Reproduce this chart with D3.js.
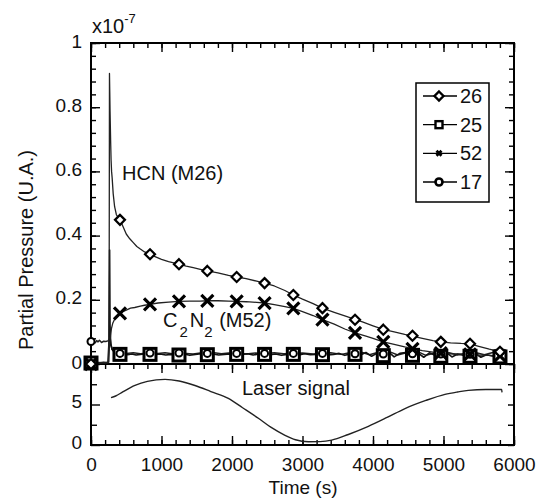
<!DOCTYPE html>
<html>
<head>
<meta charset="utf-8">
<script src="https://cdn.jsdelivr.net/npm/d3@7/dist/d3.min.js"></script>
<style>
  html, body { margin: 0; padding: 0; background: #fff; }
  svg { display: block; font-family: "Liberation Sans", Arial, sans-serif; }
</style>
</head>
<body>
<svg id="chart" width="543" height="498"></svg>
<script>
// ---- data -------------------------------------------------------------
// Time axis ticks (s)
const timeMajorTicks = [0, 1000, 2000, 3000, 4000, 5000, 6000];
const timeMinorTicks = d3.range(0, 6001, 200);
// Partial pressure ticks (x10^-7)
const pressMajorTicks = [0, 0.2, 0.4, 0.6, 0.8, 1];
const pressMinorTicks = d3.range(0, 1.0001, 0.04);
// Laser signal ticks
const laserMajorTicks = [0, 5];
const laserMinorTicks = [2.5, 7.5];

// Marker sampling times (s)
const markerTimes = [0, 411, 837, 1248, 1650, 2066, 2462, 2870, 3283, 3745, 4146, 4560, 4962, 5376, 5801];

// m/z 26 (HCN)
const t26 = [0, 100, 200, 250, 258, 262, 266, 270, 278, 285, 292, 300, 315, 335, 360, 390, 411, 460, 500, 550, 600, 650, 700, 760, 837, 900, 1000, 1100, 1248, 1350, 1450, 1550, 1650, 1800, 1950, 2066, 2200, 2350, 2462, 2600, 2750, 2870, 3000, 3150, 3283, 3450, 3600, 3745, 3850, 4000, 4146, 4300, 4450, 4560, 4700, 4850, 4962, 5100, 5250, 5376, 5500, 5650, 5801, 5850];
const v26 = [0.004, 0.005, 0.004, 0.006, 0.30, 0.905, 0.85, 0.79, 0.70, 0.635, 0.60, 0.58, 0.53, 0.49, 0.465, 0.455, 0.449, 0.425, 0.405, 0.39, 0.378, 0.366, 0.358, 0.349, 0.342, 0.335, 0.326, 0.319, 0.311, 0.305, 0.300, 0.295, 0.290, 0.284, 0.276, 0.271, 0.266, 0.258, 0.252, 0.243, 0.229, 0.215, 0.202, 0.188, 0.174, 0.161, 0.150, 0.139, 0.131, 0.119, 0.108, 0.100, 0.092, 0.087, 0.080, 0.073, 0.069, 0.066, 0.064, 0.063, 0.055, 0.046, 0.038, 0.036];
const mark26 = [0.0, 0.449, 0.342, 0.311, 0.290, 0.271, 0.252, 0.215, 0.174, 0.138, 0.107, 0.088, 0.069, 0.063, 0.038];

// m/z 52 (C2N2)
const t52 = [0, 100, 200, 250, 262, 270, 278, 290, 310, 340, 380, 411, 450, 500, 560, 620, 700, 760, 837, 950, 1100, 1248, 1400, 1550, 1650, 1800, 1950, 2066, 2200, 2350, 2462, 2600, 2750, 2870, 3000, 3150, 3283, 3450, 3600, 3745, 3900, 4000, 4146, 4300, 4450, 4560, 4700, 4850, 4962, 5100, 5250, 5376, 5500, 5650, 5801, 5850];
const v52 = [0.003, 0.004, 0.003, 0.005, 0.060, 0.072, 0.090, 0.110, 0.128, 0.142, 0.151, 0.158, 0.163, 0.168, 0.174, 0.176, 0.180, 0.183, 0.186, 0.190, 0.193, 0.195, 0.196, 0.196, 0.197, 0.197, 0.196, 0.195, 0.194, 0.192, 0.190, 0.185, 0.179, 0.173, 0.163, 0.151, 0.138, 0.124, 0.109, 0.097, 0.087, 0.080, 0.069, 0.061, 0.053, 0.048, 0.042, 0.037, 0.034, 0.032, 0.031, 0.030, 0.028, 0.027, 0.025, 0.025];
const mark52 = [0.0, 0.158, 0.186, 0.195, 0.197, 0.195, 0.190, 0.173, 0.138, 0.097, 0.069, 0.047, 0.034, 0.030, 0.025];

// m/z 25
const t25 = [0, 60, 120, 180, 240, 258, 264, 270, 280, 300, 330, 370, 411, 460, 520, 580, 640, 700, 770, 837, 900, 980, 1060, 1140, 1248, 1320, 1400, 1480, 1560, 1650, 1730, 1810, 1890, 1970, 2066, 2140, 2220, 2300, 2380, 2462, 2540, 2620, 2700, 2780, 2870, 2950, 3030, 3110, 3190, 3283, 3360, 3440, 3520, 3600, 3680, 3745, 3820, 3900, 3980, 4060, 4146, 4220, 4300, 4380, 4460, 4560, 4640, 4720, 4800, 4880, 4962, 5040, 5120, 5200, 5280, 5376, 5450, 5530, 5610, 5690, 5801, 5870];
const v25 = [0.002, 0.004, 0.003, 0.005, 0.004, 0.080, 0.355, 0.120, 0.060, 0.045, 0.038, 0.035, 0.032, 0.031, 0.029, 0.031, 0.028, 0.030, 0.032, 0.030, 0.029, 0.031, 0.028, 0.030, 0.029, 0.031, 0.027, 0.030, 0.032, 0.029, 0.031, 0.028, 0.030, 0.031, 0.029, 0.030, 0.032, 0.028, 0.031, 0.030, 0.029, 0.031, 0.027, 0.030, 0.031, 0.028, 0.032, 0.029, 0.030, 0.031, 0.028, 0.030, 0.033, 0.027, 0.031, 0.030, 0.028, 0.036, 0.024, 0.034, 0.029, 0.038, 0.022, 0.033, 0.036, 0.025, 0.034, 0.021, 0.035, 0.027, 0.024, 0.036, 0.022, 0.031, 0.027, 0.024, 0.033, 0.021, 0.029, 0.025, 0.023, 0.024];
const mark25 = [0.003, 0.030, 0.030, 0.028, 0.029, 0.030, 0.030, 0.030, 0.029, 0.030, 0.026, 0.027, 0.024, 0.024, 0.022];

// m/z 17
const t17 = [0, 30, 60, 80, 100, 120, 150, 180, 210, 240, 262, 270, 285, 300, 320, 350, 411, 500, 600, 700, 837, 950, 1050, 1150, 1248, 1350, 1450, 1550, 1650, 1750, 1850, 1950, 2066, 2200, 2330, 2462, 2600, 2730, 2870, 3000, 3150, 3283, 3400, 3550, 3650, 3745, 3850, 3950, 4050, 4146, 4250, 4350, 4460, 4560, 4650, 4750, 4850, 4962, 5080, 5200, 5300, 5376, 5480, 5580, 5700, 5801, 5870];
const v17 = [0.068, 0.070, 0.066, 0.073, 0.069, 0.074, 0.067, 0.071, 0.070, 0.072, 0.078, 0.082, 0.060, 0.045, 0.040, 0.036, 0.034, 0.033, 0.035, 0.032, 0.034, 0.033, 0.035, 0.032, 0.034, 0.033, 0.031, 0.034, 0.033, 0.035, 0.032, 0.034, 0.033, 0.031, 0.034, 0.033, 0.035, 0.032, 0.033, 0.034, 0.031, 0.033, 0.035, 0.030, 0.034, 0.032, 0.036, 0.029, 0.035, 0.031, 0.037, 0.028, 0.034, 0.032, 0.037, 0.027, 0.033, 0.031, 0.035, 0.028, 0.033, 0.030, 0.034, 0.029, 0.036, 0.038, 0.036];
const mark17 = [0.070, 0.033, 0.034, 0.034, 0.033, 0.033, 0.033, 0.033, 0.033, 0.032, 0.031, 0.032, 0.031, 0.030, 0.038];

// Laser signal
const tLaser = [284, 350, 450, 624, 800, 1050, 1250, 1475, 1700, 1948, 2150, 2374, 2550, 2752, 2900, 3083, 3250, 3414, 3650, 3934, 4200, 4454, 4750, 5021, 5200, 5352, 5600, 5825, 5830];
const vLaser = [5.85, 6.05, 6.55, 7.35, 7.85, 8.10, 7.90, 7.35, 6.60, 5.75, 4.60, 3.30, 2.20, 1.20, 0.65, 0.40, 0.42, 0.60, 1.30, 2.30, 3.40, 4.50, 5.50, 6.25, 6.55, 6.75, 6.85, 6.85, 6.50];

const legendLabels = ["26", "25", "52", "17"];

// ---- layout -------------------------------------------------------------
const X0 = 91, X1 = 514, YTOP = 43, YMID = 364, YBOT = 445;
const FONT = 20, TICKFONT = 19;

const svg = d3.select("#chart");
const x = d3.scaleLinear().domain([0, 6000]).range([X0, X1]);
const yP = d3.scaleLinear().domain([0, 1]).range([YMID, YTOP]);
const yL = d3.scaleLinear().domain([0, 10]).range([YBOT, YMID]);

const zip = (ts, vs) => ts.map((t, i) => [t, vs[i]]);

function styleAxis(g, labels) {
  g.select(".domain").remove();
  g.selectAll("line").attr("stroke", "#000").attr("stroke-width", 1.4);
  g.selectAll("text").attr("font-size", TICKFONT).attr("fill", "#111")
    .attr("font-family", '"Liberation Sans", Arial, sans-serif');
  if (!labels) g.selectAll("text").remove();
}

// ---- axes ---------------------------------------------------------------
// top panel, left
svg.append("g").attr("transform", `translate(${X0},0)`)
  .call(d3.axisLeft(yP).tickValues(pressMinorTicks).tickSize(-5).tickFormat(""))
  .call(g => styleAxis(g, false));
svg.append("g").attr("transform", `translate(${X0},-2)`)
  .call(d3.axisLeft(yP).tickValues(pressMajorTicks).tickSize(0).tickPadding(9)
    .tickFormat(d => d === 0 ? "0" : d === 1 ? "1" : d.toFixed(1)))
  .call(g => styleAxis(g, true));
svg.append("g").attr("transform", `translate(${X0},0)`)
  .call(d3.axisLeft(yP).tickValues(pressMajorTicks).tickSize(-9).tickFormat(""))
  .call(g => styleAxis(g, false));
// top panel, right
svg.append("g").attr("transform", `translate(${X1},0)`)
  .call(d3.axisRight(yP).tickValues(pressMinorTicks).tickSize(-5).tickFormat(""))
  .call(g => styleAxis(g, false));
svg.append("g").attr("transform", `translate(${X1},0)`)
  .call(d3.axisRight(yP).tickValues(pressMajorTicks).tickSize(-9).tickFormat(""))
  .call(g => styleAxis(g, false));
// laser panel, left
svg.append("g").attr("transform", `translate(${X0},0)`)
  .call(d3.axisLeft(yL).tickValues(laserMinorTicks).tickSize(-6).tickFormat(""))
  .call(g => styleAxis(g, false));
svg.append("g").attr("transform", `translate(${X0},-3)`)
  .call(d3.axisLeft(yL).tickValues(laserMajorTicks).tickSize(0).tickPadding(9).tickFormat(d3.format("d")))
  .call(g => styleAxis(g, true));
svg.append("g").attr("transform", `translate(${X0},0)`)
  .call(d3.axisLeft(yL).tickValues(laserMajorTicks).tickSize(-9).tickFormat(""))
  .call(g => styleAxis(g, false));
// laser panel, right
svg.append("g").attr("transform", `translate(${X1},0)`)
  .call(d3.axisRight(yL).tickValues(laserMinorTicks.concat(laserMajorTicks)).tickSize(-6).tickFormat(""))
  .call(g => styleAxis(g, false));

// time axes: top edge (ticks down), middle line (ticks down), bottom (ticks up)
[[d3.axisTop, YTOP], [d3.axisTop, YMID], [d3.axisBottom, YBOT]].forEach(([ax, yy]) => {
  svg.append("g").attr("transform", `translate(0,${yy})`)
    .call(ax(x).tickValues(timeMinorTicks).tickSize(-5).tickFormat(""))
    .call(g => styleAxis(g, false));
  svg.append("g").attr("transform", `translate(0,${yy})`)
    .call(ax(x).tickValues(timeMajorTicks).tickSize(-9).tickFormat(""))
    .call(g => styleAxis(g, false));
});
svg.append("g").attr("transform", `translate(0,${YBOT})`)
  .call(d3.axisBottom(x).tickValues(timeMajorTicks).tickSize(0).tickPadding(13).tickFormat(d3.format("d")))
  .call(g => styleAxis(g, true));

// frames
svg.append("rect").attr("x", X0).attr("y", YTOP).attr("width", X1 - X0).attr("height", YMID - YTOP)
  .attr("fill", "none").attr("stroke", "#000").attr("stroke-width", 2);
svg.append("rect").attr("x", X0).attr("y", YMID).attr("width", X1 - X0).attr("height", YBOT - YMID)
  .attr("fill", "none").attr("stroke", "#000").attr("stroke-width", 2);

// ---- curves -------------------------------------------------------------
const lineP = d3.line().x(d => x(d[0])).y(d => yP(d[1]));
const lineL = d3.line().x(d => x(d[0])).y(d => yL(d[1])).curve(d3.curveMonotoneX);

const curves = svg.append("g").attr("fill", "none").attr("stroke-linejoin", "round");
curves.append("path").attr("d", lineP(zip(t17, v17))).attr("stroke", "#222").attr("stroke-width", 1.5);
curves.append("path").attr("d", lineP(zip(t25, v25))).attr("stroke", "#111").attr("stroke-width", 1.6);
curves.append("path").attr("d", lineP(zip(t52, v52))).attr("stroke", "#222").attr("stroke-width", 1.3);
curves.append("path").attr("d", lineP(zip(t26, v26))).attr("stroke", "#222").attr("stroke-width", 1.3);
curves.append("path").attr("d", lineL(zip(tLaser, vLaser))).attr("stroke", "#222").attr("stroke-width", 1.4);

// ---- markers ------------------------------------------------------------
const markerShapes = {
  square: (g, s) => g.append("rect").attr("x", -s / 2).attr("y", -s / 2).attr("width", s).attr("height", s),
  circle: (g, s) => g.append("circle").attr("r", s / 2),
  cross: (g, s) => g.append("path").attr("d", `M${-s / 2},${-s / 2}L${s / 2},${s / 2}M${-s / 2},${s / 2}L${s / 2},${-s / 2}`),
  diamond: (g, s) => g.append("path").attr("d", `M0,${-s / 2}L${s / 2},0L0,${s / 2}L${-s / 2},0Z`)
};

function drawMarkers(values, shape, size, sw) {
  const g = svg.append("g");
  markerTimes.forEach((t, i) => {
    const m = g.append("g").attr("transform", `translate(${x(t)},${yP(values[i])})`);
    markerShapes[shape](m, size).attr("fill", shape === "cross" ? "none" : "#fff")
      .attr("stroke", "#000").attr("stroke-width", sw);
  });
}
drawMarkers(mark25, "square", 12, 3);
drawMarkers(mark17, "circle", 7, 2);
drawMarkers(mark52, "cross", 12, 3.2);
drawMarkers(mark26, "diamond", 10, 2.2);

// ---- annotations --------------------------------------------------------
svg.append("text").attr("x", 122).attr("y", 180).attr("font-size", FONT).attr("fill", "#111").text("HCN (M26)");

const c2 = svg.append("text").attr("x", 163).attr("y", 327).attr("font-size", FONT).attr("fill", "#111");
c2.append("tspan").text("C");
c2.append("tspan").attr("dx", 2).attr("dy", 10).attr("font-size", 15).text("2");
c2.append("tspan").attr("dx", 2).attr("dy", -10).text("N");
c2.append("tspan").attr("dx", 0).attr("dy", 10).attr("font-size", 15).text("2");
c2.append("tspan").attr("dx", 1).attr("dy", -10).text(" (M52)");

svg.append("text").attr("x", 242).attr("y", 395).attr("font-size", FONT).attr("fill", "#111").text("Laser signal");

// exponent
const ex = svg.append("text").attr("x", 92).attr("y", 33).attr("font-size", FONT).attr("fill", "#111");
ex.append("tspan").text("x10");
ex.append("tspan").attr("dy", -10).attr("font-size", 13).text("-7");

// axis titles
svg.append("text").attr("x", 303).attr("y", 494).attr("text-anchor", "middle")
  .attr("font-size", TICKFONT).attr("fill", "#111").text("Time (s)");
svg.append("text").attr("transform", "translate(33,250) rotate(-90)").attr("text-anchor", "middle")
  .attr("font-size", FONT).attr("fill", "#111").text("Partial Pressure (U.A.)");

// ---- legend -------------------------------------------------------------
const legend = svg.append("g");
legend.append("rect").attr("x", 416).attr("y", 83).attr("width", 73).attr("height", 119)
  .attr("fill", "#fff").attr("stroke", "#000").attr("stroke-width", 1.5);
const legendShapes = [["diamond", 9, 2.4], ["square", 7, 2.4], ["cross", 5, 2.8], ["circle", 7, 2.6]];
const legendY = d3.scalePoint().domain(legendLabels).range([96, 182]);
legendLabels.forEach((lab, i) => {
  const cy = legendY(lab);
  legend.append("line").attr("x1", 423).attr("x2", 457).attr("y1", cy).attr("y2", cy)
    .attr("stroke", "#000").attr("stroke-width", 1.3);
  const m = legend.append("g").attr("transform", `translate(439,${cy})`);
  const [shape, s, sw] = legendShapes[i];
  markerShapes[shape](m, s).attr("fill", shape === "cross" ? "none" : "#fff")
    .attr("stroke", "#000").attr("stroke-width", sw);
  legend.append("text").attr("x", 460).attr("y", cy + 7).attr("font-size", FONT).attr("fill", "#111").text(lab);
});
</script>
</body>
</html>
